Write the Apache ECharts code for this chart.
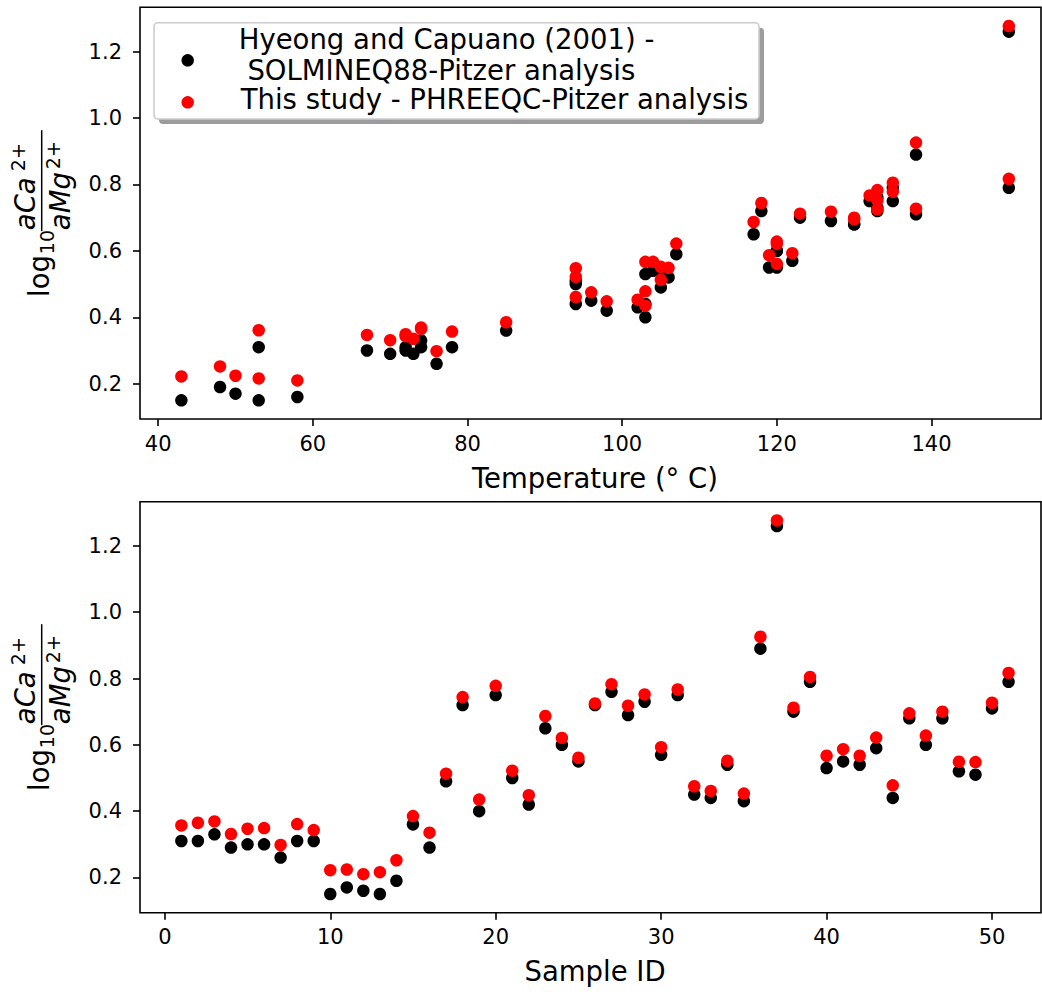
<!DOCTYPE html>
<html>
<head>
<meta charset="utf-8">
<script src="https://cdn.jsdelivr.net/npm/echarts@6/dist/echarts.min.js"></script>
<style>
html, body { margin: 0; padding: 0; background: #ffffff; }
#chart { width: 1042px; height: 992px; }
</style>
</head>
<body>
<div id="chart"></div>
<script>
// ---------- data ----------
const sampleIds = [1,2,3,4,5,6,7,8,9,10,11,12,13,14,15,16,17,18,19,20,21,22,23,24,25,26,27,28,29,30,31,32,33,34,35,36,37,38,39,40,41,42,43,44,45,46,47,48,49,50,51];
const temperatures = [78,74,74,70,67,72,76,53,72,43,50,58,53,48,85,73,105,118,103,135,94,98,117,120,120,133,133,127,133,122,132,96,94,105,102,138,150,123,135,103,119,104,107,103,130,120,130,106,94,138,150];
const hyeongValues = [0.31,0.31,0.33,0.29,0.30,0.30,0.26,0.31,0.31,0.15,0.17,0.16,0.15,0.19,0.36,0.29,0.49,0.72,0.40,0.75,0.50,0.42,0.65,0.60,0.55,0.72,0.76,0.69,0.73,0.57,0.75,0.45,0.44,0.54,0.43,0.89,1.26,0.70,0.79,0.53,0.55,0.54,0.59,0.44,0.68,0.60,0.68,0.52,0.51,0.71,0.79];
const thisStudyValues = [0.357,0.365,0.369,0.331,0.347,0.349,0.298,0.361,0.343,0.222,0.224,0.210,0.216,0.252,0.385,0.335,0.513,0.744,0.435,0.778,0.522,0.448,0.687,0.621,0.561,0.725,0.783,0.718,0.752,0.593,0.767,0.475,0.461,0.552,0.453,0.926,1.277,0.712,0.805,0.567,0.587,0.567,0.622,0.478,0.695,0.628,0.700,0.549,0.548,0.727,0.817];
const temperatureTicks = [40,60,80,100,120,140];
const sampleTicks = [0,10,20,30,40,50];
const ratioTicks = [0.2,0.4,0.6,0.8,1.0,1.2];
const legendLines = ['Hyeong and Capuano (2001) -', ' SOLMINEQ88-Pitzer analysis', 'This study - PHREEQC-Pitzer analysis'];
const seriesNames = ['Hyeong and Capuano (2001) - SOLMINEQ88-Pitzer analysis', 'This study - PHREEQC-Pitzer analysis'];
const xTitles = ['Temperature (° C)', 'Sample ID'];

// ---------- styling ----------
const FONT = "'DejaVu Sans', 'Liberation Sans', sans-serif";
const TICK_FS = 21;
const LABEL_FS = 27.5;
const MARK = 12.5;

const chart = echarts.init(document.getElementById('chart'), null, { renderer: 'svg' });

function xAxisDef(gridIndex, min, max, ticks, title, gap) {
  return {
    type: 'value', gridIndex: gridIndex, min: min, max: max, position: 'bottom',
    axisLine: { show: false, onZero: false },
    axisTick: { show: true, length: 7, customValues: ticks, lineStyle: { color: '#000', width: 1.6 } },
    axisLabel: { show: true, customValues: ticks, margin: 14, fontSize: TICK_FS, color: '#000', fontFamily: FONT,
                 formatter: v => String(Math.round(v)) },
    splitLine: { show: false },
    name: title, nameLocation: 'middle', nameGap: gap,
    nameTextStyle: { fontSize: LABEL_FS, color: '#000', fontFamily: FONT, verticalAlign: 'top', padding: [0, 0, 0, 9] }
  };
}
function yAxisDef(gridIndex) {
  return {
    type: 'value', gridIndex: gridIndex, min: 0.0937, max: 1.3334, position: 'left',
    axisLine: { show: false, onZero: false },
    axisTick: { show: true, length: 7, customValues: ratioTicks, lineStyle: { color: '#000', width: 1.6 } },
    axisLabel: { show: true, customValues: ratioTicks, margin: 18, fontSize: TICK_FS, color: '#000', fontFamily: FONT,
                 formatter: v => v.toFixed(1) },
    splitLine: { show: false }
  };
}

function yLabelGroup(cx, cy) {
  const F = LABEL_FS, S = 19, k = 0.35;
  const t = (txt, x, baseline, fs, italic) => ({
    type: 'text', x: x, y: baseline - k * fs, silent: true,
    style: { text: txt, fontSize: fs, fontFamily: FONT, fontStyle: italic ? 'italic' : 'normal', fill: '#000',
             align: 'left', verticalAlign: 'middle', textAlign: 'left', textVerticalAlign: 'middle' }
  });
  return {
    type: 'group', x: cx, y: cy, rotation: Math.PI / 2, silent: true,
    children: [
      t('log', -83.7, 8.3, F, false),
      t('10', -41, 13.3, S, false),
      { type: 'line', silent: true, shape: { x1: -18, y1: 1.7, x2: 83, y2: 1.7 }, style: { stroke: '#000', lineWidth: 1.5 } },
      t('aCa', -17, -5, F, true),
      t('2+', 42, -15, S, false),
      t('aMg', -17, 30, F, true),
      t('2+', 44, 20, S, false)
    ]
  };
}

function legendGroup() {
  const txt = (s, x, baseline) => ({
    type: 'text', x: x, y: baseline - 0.35 * LABEL_FS, silent: true,
    style: { text: s, fontSize: LABEL_FS, fontFamily: FONT, fill: '#000',
             align: 'left', verticalAlign: 'middle', textAlign: 'left', textVerticalAlign: 'middle' }
  });
  return {
    type: 'group', silent: true, z: 100,
    children: [
      { type: 'rect', shape: { x: 159, y: 27.7, width: 605, height: 96.3, r: 4 }, style: { fill: '#9c9c9c' } },
      { type: 'rect', shape: { x: 154, y: 22.7, width: 605, height: 96.3, r: 4 }, style: { fill: '#ffffff', stroke: '#cccccc', lineWidth: 1.6 } },
      { type: 'circle', shape: { cx: 187.7, cy: 60.3, r: MARK / 2 }, style: { fill: '#000000' } },
      { type: 'circle', shape: { cx: 187.7, cy: 102.3, r: MARK / 2 }, style: { fill: '#ff0000' } },
      txt(legendLines[0], 238.7, 48.3),
      txt(legendLines[1].trim(), 247.4, 80),
      txt(legendLines[2], 240.7, 109)
    ]
  };
}

const pointStyle = color => ({ color: color, opacity: 1, borderWidth: 0 });

const option = {
  animation: false,
  backgroundColor: '#ffffff',
  textStyle: { fontFamily: FONT },
  grid: [
    { left: 140, top: 7.3, width: 901, height: 411.7, show: true, borderColor: '#000', borderWidth: 1.6, backgroundColor: 'transparent', containLabel: false },
    { left: 140, top: 501.7, width: 901, height: 411, show: true, borderColor: '#000', borderWidth: 1.6, backgroundColor: 'transparent', containLabel: false }
  ],
  xAxis: [
    xAxisDef(0, 37.65, 154.16, temperatureTicks, xTitles[0], 45),
    xAxisDef(1, -1.5, 52.96, sampleTicks, xTitles[1], 44)
  ],
  yAxis: [ yAxisDef(0), yAxisDef(1) ],
  series: [
    { name: seriesNames[0], type: 'scatter', xAxisIndex: 0, yAxisIndex: 0, symbolSize: MARK, z: 2,
      itemStyle: pointStyle('#000000'), data: temperatures.map((t, i) => [t, hyeongValues[i]]) },
    { name: seriesNames[1], type: 'scatter', xAxisIndex: 0, yAxisIndex: 0, symbolSize: MARK, z: 3,
      itemStyle: pointStyle('#ff0000'), data: temperatures.map((t, i) => [t, thisStudyValues[i]]) },
    { name: seriesNames[0], type: 'scatter', xAxisIndex: 1, yAxisIndex: 1, symbolSize: MARK, z: 2,
      itemStyle: pointStyle('#000000'), data: sampleIds.map((s, i) => [s, hyeongValues[i]]) },
    { name: seriesNames[1], type: 'scatter', xAxisIndex: 1, yAxisIndex: 1, symbolSize: MARK, z: 3,
      itemStyle: pointStyle('#ff0000'), data: sampleIds.map((s, i) => [s, thisStudyValues[i]]) }
  ],
  graphic: [
    yLabelGroup(40, 213.2),
    yLabelGroup(40, 707.2),
    legendGroup()
  ]
};
chart.setOption(option);
</script>
</body>
</html>
